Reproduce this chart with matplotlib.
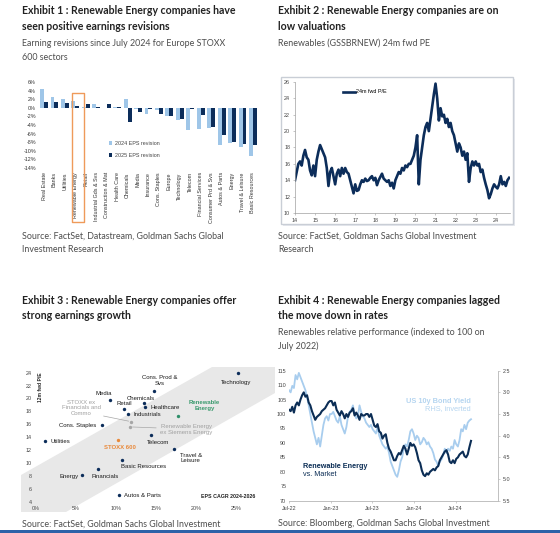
import numpy as np
import pandas as pd
import matplotlib
matplotlib.use("Agg")
import matplotlib.pyplot as plt
from matplotlib.patches import Rectangle, Polygon

plt.rcParams['axes.unicode_minus'] = False
plt.rcParams['font.family'] = ['Liberation Sans', 'DejaVu Sans']

# ---------------- data ----------------
# Exhibit 1
sectors = ["Real Estate", "Banks", "Utilities", "Renewable Energy", "Retail",
           "Industrial Gds & Svs", "Construction & Mat", "Health Care", "Chemicals",
           "Media", "Insurance", "Cons. Staples", "Europe", "Technology", "Telecom",
           "Financial Services", "Consumer Prd & Svs", "Autos & Parts", "Energy",
           "Travel & Leisure", "Basic Resources"]
eps_2024 = [4.3, 2.5, 2.1, 1.5, 0.2, 0.9, 0.0, 0.2, 2.0, -0.3, -1.5, -0.6, -1.8,
            -2.8, -5.2, -4.9, -4.8, -8.6, -8.2, -9.0, -11.3]
eps_2025 = [1.4, 1.4, 1.1, 0.5, 0.8, 0.1, 0.8, 0.1, -3.2, -1.0, -0.2, -1.5, -1.8,
            -2.5, -0.2, -1.7, -4.5, -6.4, -8.0, -8.5, -8.6]
rev_yticks = [6, 4, 2, 0, -2, -4, -6, -8, -10, -12, -14]

# Exhibit 2
pe_values = [14.0, 15.0, 16.0, 16.3, 15.8, 17.0, 17.7, 16.8, 16.5, 15.2, 14.6, 15.8, 14.5,
             16.5, 17.5, 18.3, 17.8, 17.3, 16.8, 15.5, 13.3, 15.0, 15.5, 14.5, 13.5, 14.8,
             15.3, 14.5, 15.5, 14.8, 15.5, 15.0, 14.8, 14.0, 13.2, 12.4, 13.5, 12.7, 12.8,
             13.5, 14.0, 13.8, 14.2, 13.9, 14.0, 14.3, 14.5, 14.0, 14.3, 13.4, 14.0, 14.4,
             14.8, 14.2, 14.0, 13.8, 14.0, 13.3, 13.7, 13.0, 14.0, 14.5, 15.0, 14.8, 15.5,
             15.2, 15.8, 15.6, 16.0, 16.0, 16.5, 17.0, 18.0, 19.5, 13.5, 16.5, 18.0, 19.5,
             20.5, 21.0, 20.0, 21.5, 23.0, 24.5, 25.8, 24.0, 21.3, 22.8, 21.8, 22.0, 21.0,
             21.5, 20.5, 21.0, 20.0, 19.5, 18.5, 17.5, 18.5, 18.0, 17.0, 17.5, 16.5, 17.3,
             13.8, 15.5, 16.3, 15.8, 16.3, 15.8, 16.0, 15.0, 15.3, 14.3, 13.5, 12.8, 11.8,
             12.3, 13.0, 13.5, 13.2, 13.0, 13.5, 14.5, 13.5, 13.8, 13.3, 14.0, 14.3]
pe_start, pe_end = 14.0, 24.67
pe_xticks = list(range(14, 25))

# Exhibit 3
scat_names = ["Technology", "Cons. Prod &\nSvs", "Media", "Chemicals", "Retail",
              "Healthcare", "Industrials", "Renewable\nEnergy", "STOXX ex\nFinancials and\nCommo",
              "Cons. Staples", "Renewable Energy\nex Siemens Energy", "Telecom", "Utilities",
              "STOXX 600", "Travel &\nLeisure", "Basic Resources", "Financials", "Energy",
              "Autos & Parts"]
eps_cagr = [0.251, 0.147, 0.093, 0.135, 0.110, 0.136, 0.115, 0.1775, 0.119, 0.083, 0.117,
            0.144, 0.012, 0.102, 0.1725, 0.107, 0.077, 0.057, 0.103]
fwd_pe = [23.9, 21.2, 19.8, 19.3, 18.4, 18.7, 17.6, 17.3, 16.4, 15.9, 15.6, 14.3, 13.4,
          13.5, 12.2, 10.5, 9.0, 8.2, 5.0]
scat_kind = ["s", "s", "s", "s", "s", "s", "s", "re", "g", "s", "g", "s", "s", "o", "s",
             "s", "s", "s", "s"]

# Exhibit 4
rel_perf = [101.5, 101, 102.5, 100.5, 103, 104, 103, 105, 106.5, 107.5, 106, 106.5, 104, 103,
            101, 99.5, 98, 99, 99.5, 100, 101, 101.5, 102, 103, 104, 104.5, 104.5, 103, 104,
            101.5, 100.5, 99.5, 101, 100, 98.5, 100, 99, 100.5, 101, 102, 99.5, 100.5, 99.5,
            98, 100, 99.5, 99.5, 100, 100, 99, 100, 98, 96, 95.5, 96.5, 94, 93.5, 91.5, 92.5,
            93, 90, 88, 87, 85.5, 84, 84, 85.5, 86.5, 86, 87.5, 89, 88, 86, 88, 90, 89, 89.5,
            88.5, 86.5, 84, 83, 80.5, 79, 78.5, 79.5, 79, 80, 80.5, 81, 80.5, 81.5, 82, 84, 85,
            86, 87, 87.5, 86, 83.5, 83, 84, 83, 84.5, 85, 86, 86.5, 87, 85.5, 85, 86, 88.5, 90.7]
us10y = [2.95, 3.0, 2.85, 2.9, 2.6, 2.7, 2.55, 2.65, 2.75, 2.85, 2.95, 3.1, 3.3, 3.5, 3.7, 3.9,
         4.05, 4.2, 4.05, 4.25, 4.0, 3.75, 3.6, 3.55, 3.65, 3.5, 3.5, 3.45, 3.55, 3.65, 3.7,
         3.55, 3.75, 3.85, 3.95, 3.8, 3.55, 3.45, 3.4, 3.3, 3.5, 3.6, 3.55, 3.3, 3.45, 3.55,
         3.6, 3.7, 3.75, 3.8, 3.75, 3.85, 3.9, 3.95, 3.8, 4.0, 4.1, 4.2, 4.25, 4.3, 4.25, 4.4,
         4.6, 4.7, 4.8, 4.9, 4.95, 4.8, 4.6, 4.5, 4.3, 4.2, 4.25, 4.1, 3.9, 3.85, 3.95, 4.1,
         4.0, 4.05, 4.2, 4.15, 4.05, 4.1, 4.2, 4.15, 4.25, 4.3, 4.4, 4.55, 4.6, 4.7, 4.6, 4.55,
         4.45, 4.3, 4.4, 4.3, 4.35, 4.25, 4.3, 4.1, 4.2, 4.25, 4.1, 3.85, 3.9, 3.75, 3.85, 3.7,
         3.65, 3.62]
perf_start, perf_end = "2022-07-01", "2024-09-06"
perf_xticks = ["2022-07-01", "2023-01-01", "2023-07-01", "2024-01-01", "2024-07-01"]
perf_xlabels = ["Jul-22", "Jan-23", "Jul-23", "Jan-24", "Jul-24"]

# ---------------- figure ----------------
W, H = 560, 533
fig = plt.figure(figsize=(W / 100, H / 100), dpi=100)
fig.patch.set_facecolor("white")

NAVY = "#0c2d5a"
LIGHT = "#9fc6e8"
GRAYTXT = "#4d4d4d"
TITLE = "#222222"
TF = ["Lato", "DejaVu Sans"]


def fx(x):
    return x / W


def fy(y):
    return 1 - y / H


def add_ax(x0, y0, x1, y1):
    return fig.add_axes([fx(x0), fy(y1), (x1 - x0) / W, (y1 - y0) / H])


def ftext(x, y, s, **kw):
    kw.setdefault("va", "center")
    fig.text(fx(x), fy(y), s, **kw)


def title_block(x, y, lines, sub, src, src_y):
    for i, l in enumerate(lines):
        ftext(x, y + i * 15.5, l, fontsize=7.6, fontweight="bold", color=TITLE, family=TF)
    for i, l in enumerate(sub):
        ftext(x, y + len(lines) * 15.5 + 1 + i * 14.5, l, fontsize=6.4, color=GRAYTXT, family=TF)
    for i, l in enumerate(src):
        ftext(x, src_y + i * 13.5, l, fontsize=6.4, color=GRAYTXT, family=TF)


title_block(22, 11, ["Exhibit 1 : Renewable Energy companies have",
                     "seen positive earnings revisions"],
            ["Earning revisions since July 2024 for Europe STOXX", "600 sectors"],
            ["Source: FactSet, Datastream, Goldman Sachs Global", "Investment Research"], 236)
title_block(278, 11, ["Exhibit 2 : Renewable Energy companies are on",
                      "low valuations"],
            ["Renewables (GSSBRNEW) 24m fwd PE"],
            ["Source: FactSet, Goldman Sachs Global Investment", "Research"], 236)
title_block(22, 300, ["Exhibit 3 : Renewable Energy companies offer",
                      "strong earnings growth"], [],
            ["Source: FactSet, Goldman Sachs Global Investment"], 524)
title_block(278, 300, ["Exhibit 4 : Renewable Energy companies lagged",
                       "the move down in rates"],
            ["Renewables relative performance (indexed to 100 on", "July 2022)"],
            ["Source: Bloomberg, Goldman Sachs Global Investment"], 524)

# bottom blue rule
fig.patches.append(Rectangle((0, 0), 1, 3.5 / H, transform=fig.transFigure,
                             facecolor="#2d62a8", edgecolor="none", zorder=5))

# ---------------- Exhibit 1 ----------------
ax1 = add_ax(38.8, 82, 258.2, 168)
ax1.set_facecolor("none")
xi = np.arange(len(sectors))
bw = 0.38
ax1.bar(xi - bw / 2, eps_2024, bw, color=LIGHT, label="2024 EPS revision")
ax1.bar(xi + bw / 2, eps_2025, bw, color=NAVY, label="2025 EPS revision")
ax1.set_xlim(-0.5, len(sectors) - 0.5)
ax1.set_ylim(-14, 6)
ax1.set_yticks(rev_yticks)
ax1.set_yticklabels([f"{v}%" for v in rev_yticks])
ax1.set_xticks(xi)
ax1.set_xticklabels(sectors, rotation=90, fontsize=3.9, color="#333333")
ax1.tick_params(axis="y", labelsize=3.9, labelcolor="#333333", length=0, pad=2)
ax1.tick_params(axis="x", length=0, pad=3)
for s in ax1.spines.values():
    s.set_visible(False)
leg = ax1.legend(loc="upper left", bbox_to_anchor=(0.3, 0.37), frameon=False,
                 fontsize=3.9, handlelength=0.5, handleheight=0.8, handletextpad=0.5,
                 labelspacing=1.2)
for t in leg.get_texts():
    t.set_color("#444444")
# highlight box around Renewable Energy
fig.patches.append(Rectangle((fx(72), fy(222)), 11.5 / W, 129 / H, transform=fig.transFigure,
                             facecolor="none", edgecolor="#ef9a5a", lw=1.0, zorder=3,
                             joinstyle="round"))

# ---------------- Exhibit 2 ----------------
fig.patches.append(Rectangle((fx(282.5), fy(225.5)), 232 / W, 147 / H, transform=fig.transFigure,
                             facecolor="#e6e9ee", edgecolor="none", zorder=-2))
fig.patches.append(Rectangle((fx(281), fy(224)), 232 / W, 147 / H, transform=fig.transFigure,
                             facecolor="white", edgecolor="#c9ced6", lw=1.0, zorder=-1))
ax2 = add_ax(295, 82, 295 + 10.7 * 20.07, 213)
ax2.set_facecolor("none")
pe_x = np.linspace(pe_start, pe_end, len(pe_values))
ax2.plot(pe_x, pe_values, color=NAVY, lw=1.9, label="24m fwd P/E")
ax2.set_xlim(14, 24.7)
ax2.set_ylim(10, 26)
ax2.set_yticks(range(10, 27, 2))
ax2.set_xticks(pe_xticks)
ax2.set_xticklabels([str(v) for v in pe_xticks])
ax2.tick_params(labelsize=3.9, labelcolor="#444444", length=1.5, width=0.4, color="#999999", pad=2)
for k, s in ax2.spines.items():
    if k in ("top", "right"):
        s.set_visible(False)
    else:
        s.set_color("#a0a0a0")
        s.set_linewidth(0.5)
leg2 = ax2.legend(loc="upper left", bbox_to_anchor=(0.2, 0.98), frameon=False, fontsize=3.9,
                  handlelength=2.2, handletextpad=0.3)

# ---------------- Exhibit 3 ----------------
band = [(21, 475), (212, 367), (275, 367), (275, 393), (66, 512), (21, 512)]
fig.patches.append(Polygon([(fx(a), fy(b)) for a, b in band], closed=True,
                           transform=fig.transFigure, facecolor="#e8e8e8",
                           edgecolor="none", zorder=-1))
ax3 = add_ax(35.7, 372.7, 35.7 + 0.27 * 804, 501.7)
ax3.set_facecolor("none")
ax3.set_xlim(0, 0.27)
ax3.set_ylim(4, 24)
ax3.set_yticks(range(4, 25, 2))
x3t = [0, 0.05, 0.10, 0.15, 0.20, 0.25]
ax3.set_xticks(x3t)
ax3.set_xticklabels([f"{int(round(v * 100))}%" for v in x3t])
ax3.tick_params(labelsize=3.9, labelcolor="#444444", length=0, pad=3)
for s in ax3.spines.values():
    s.set_visible(False)
col_map = {"s": NAVY, "g": "#a6a6a6", "o": "#e8893a", "re": "#2f8f6a"}
txt_map = {"s": "#1a1a1a", "g": "#a0a0a0", "o": "#e8893a", "re": "#3a9a6e"}
offsets = {
    "Technology": ((-1.2, -6.5), "center"),
    "Cons. Prod &\nSvs": ((4.1, 7.2), "center"),
    "Media": ((-4.8, 4.6), "center"),
    "Chemicals": ((-2.4, 3.4), "center"),
    "Retail": ((-0.2, 4.1), "center"),
    "Healthcare": ((4.1, -0.5), "left"),
    "Industrials": ((3.6, -0.3), "left"),
    "Renewable\nEnergy": ((18.7, 7.7), "center"),
    "STOXX ex\nFinancials and\nCommo": ((-36.2, 10.1), "center"),
    "Cons. Staples": ((-4.1, -0.5), "right"),
    "Renewable Energy\nex Siemens Energy": ((40.6, -1.9), "center"),
    "Telecom": ((4.8, -5.3), "center"),
    "Utilities": ((3.6, -0.3), "left"),
    "STOXX 600": ((1.4, -4.8), "center"),
    "Travel &\nLeisure": ((11.8, -6.7), "center"),
    "Basic Resources": ((-0.7, -5.0), "left"),
    "Financials": ((5.5, -5.0), "center"),
    "Energy": ((-2.4, -1.2), "right"),
    "Autos & Parts": ((3.8, 0.0), "left"),
}
for name, xv, yv, k in zip(scat_names, eps_cagr, fwd_pe, scat_kind):
    ax3.scatter([xv], [yv], s=6, color=col_map[k], zorder=3, clip_on=False, linewidths=0)
    (dx, dy), ha = offsets[name]
    bold = k in ("re", "o")
    ax3.annotate(name, (xv, yv), xytext=(dx, dy), textcoords="offset points", ha=ha,
                 va="center", fontsize=4.3, color=txt_map[k],
                 fontweight="bold" if bold else "normal", linespacing=1.15,
                 annotation_clip=False)
# connector lines for grey labels
ax3.annotate("", (0.119, 16.4), xytext=(-22, 4.5), textcoords="offset points",
             arrowprops=dict(arrowstyle="-", color="#a6a6a6", lw=0.5))
ax3.annotate("", (0.117, 15.6), xytext=(21, -0.8), textcoords="offset points",
             arrowprops=dict(arrowstyle="-", color="#a6a6a6", lw=0.5))
ftext(40, 387, "12m fwd P/E", rotation=90, fontsize=3.6, fontweight="bold", ha="center",
      color="#222222")
ftext(255, 496, "EPS CAGR 2024-2026", fontsize=3.8, fontweight="bold", ha="right",
      color="#222222")

# ---------------- Exhibit 4 ----------------
ax4 = add_ax(289, 370.7, 497.7, 500.7)
ax4.set_facecolor("none")
dates = pd.date_range(perf_start, perf_end, periods=len(rel_perf))
ax4r = ax4.twinx()
ax4r.plot(dates, us10y, color="#a8cdee", lw=1.3, zorder=2)
ax4r.set_ylim(5.5, 2.5)
ax4.plot(dates, rel_perf, color="#0b2d55", lw=1.5, zorder=3)
ax4.set_zorder(ax4r.get_zorder() + 1)
ax4.set_ylim(70, 115)
ax4.set_yticks(range(70, 116, 5))
ax4r.set_yticks([2.5, 3.0, 3.5, 4.0, 4.5, 5.0, 5.5])
ax4r.set_yticklabels(["2.5", "3.0", "3.5", "4.0", "4.5", "5.0", "5.5"])
ax4.set_xlim(pd.Timestamp("2022-07-01"), pd.Timestamp("2025-01-01"))
ax4.set_xticks(pd.to_datetime(perf_xticks))
ax4.set_xticklabels(perf_xlabels)
for a in (ax4, ax4r):
    a.tick_params(labelsize=3.9, labelcolor="#444444", length=1.5, width=0.4,
                  color="#aaaaaa", pad=2)
    for k, s in a.spines.items():
        s.set_visible(k in ("bottom", "right"))
        s.set_color("#bbbbbb")
        s.set_linewidth(0.5)
ax4.tick_params(axis="y", length=0)
ftext(303, 467, "Renewable Energy", fontsize=5.2, fontweight="bold", color="#0b2d55")
ftext(303, 474.5, "vs. Market", fontsize=5.2, color="#0b2d55")
ftext(471, 401.5, "US 10y Bond Yield", fontsize=5.3, fontweight="bold", color="#b5d5f0",
      ha="right")
ftext(471, 409, "RHS, inverted", fontsize=5.3, color="#b5d5f0", ha="right")

fig.savefig("out.png", dpi=100, facecolor="white")
